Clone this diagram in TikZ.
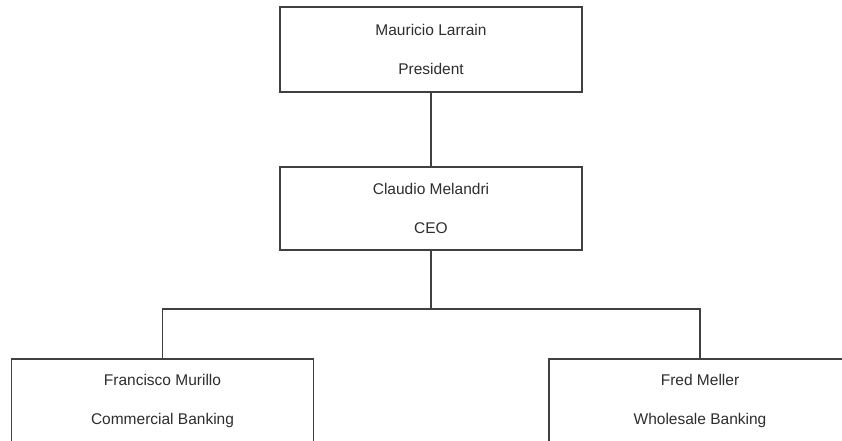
\documentclass[tikz,border=0pt]{standalone}
\usepackage{fontspec}
\setmainfont{Liberation Sans}
\usepackage{xcolor}
\usepackage{tikz}
\usetikzlibrary{positioning, calc}
\definecolor{boxline}{HTML}{404040}
\definecolor{nametext}{HTML}{2E2E2E}
\tikzset{
  orgbox/.style={draw=boxline, line width=1.7pt, fill=white, inner sep=0pt,
    minimum width=302pt, minimum height=84pt, align=center, text=nametext,
    font=\fontsize{15.5}{39}\selectfont},
  orgline/.style={draw=boxline, line width=1.7pt}
}
\begin{document}
\begin{tikzpicture}[x=1pt, y=-1pt]
  % Page frame
  \clip (0,0) rectangle (842,441);
  \fill[white] (0,0) rectangle (842,441);

  % Top of the chart
  \node[orgbox, minimum height=85pt] (pres) at (431,49.5) {Mauricio Larrain\\President};
  \node[orgbox, minimum height=83pt] (ceo) at (431,208.5) {Claudio Melandri\\CEO};

  % Division heads (cut by the lower edge)
  \node[orgbox] (comm) at (162.5,401) {Francisco Murillo\\Commercial Banking};
  \node[orgbox] (whole) at (700,401) {Fred Meller\\Wholesale Banking};

  % Connectors
  \coordinate (bar) at (431,309);
  \draw[orgline] (pres.south) -- (ceo.north);
  \draw[orgline] (ceo.south) -- (bar);
  \draw[orgline] (comm.north) |- (bar) -| (whole.north);
\end{tikzpicture}
\end{document}
